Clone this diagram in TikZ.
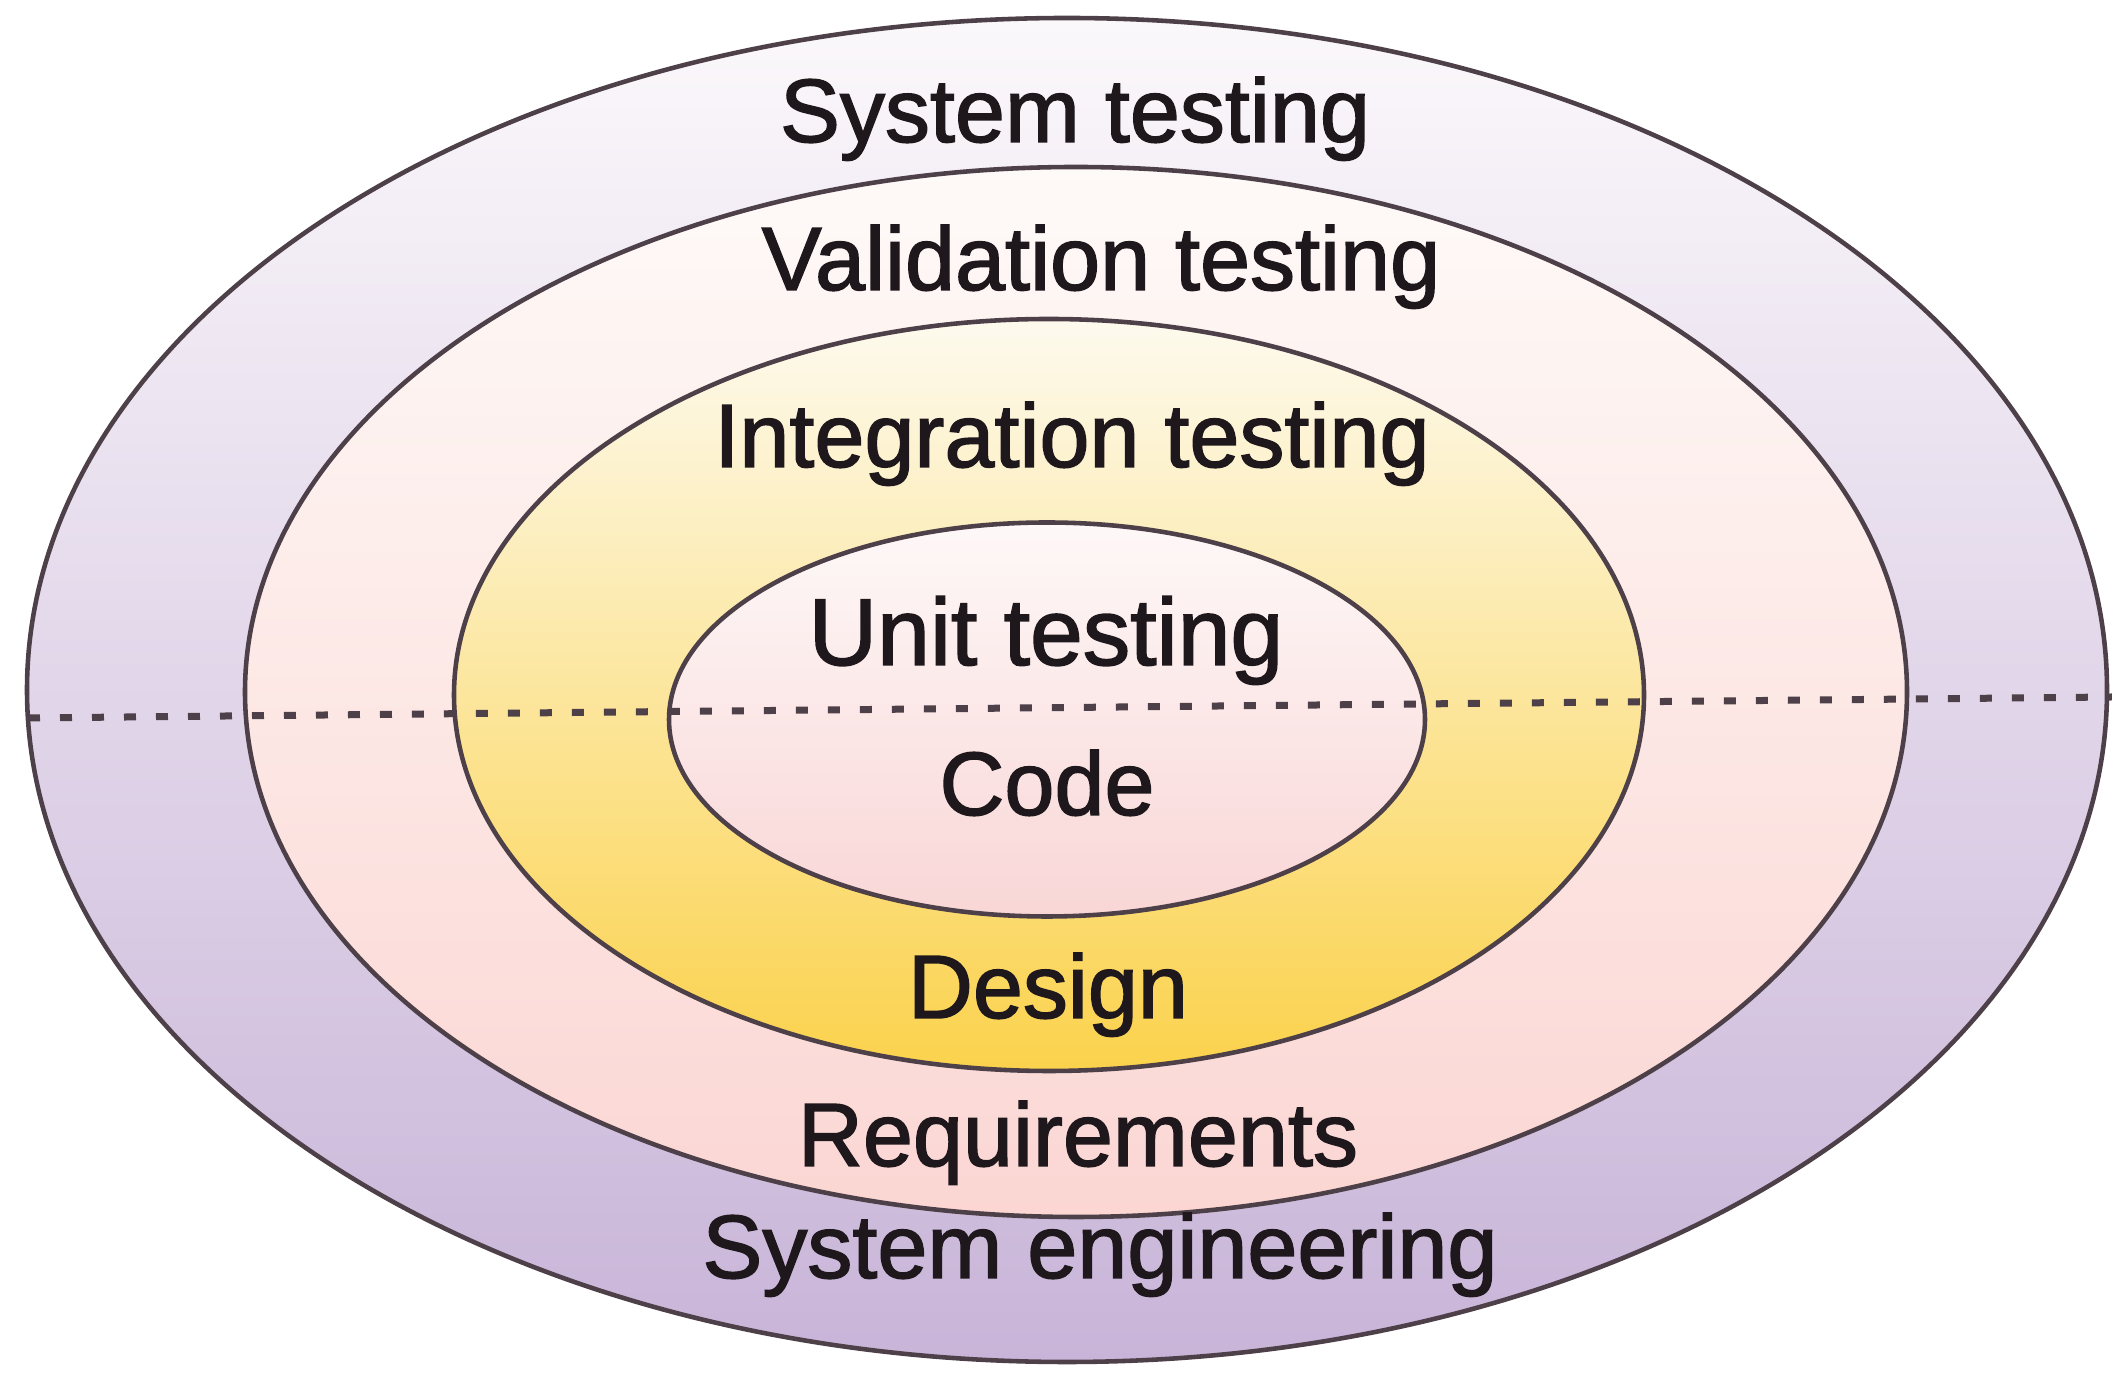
\documentclass[tikz,border=0pt]{standalone}
\usepackage{fontspec}
\setmainfont{Liberation Sans}
\newfontfamily\stagefont{Liberation Sans}[FakeBold=1.6]
\definecolor{rimline}{HTML}{4E4048}
\definecolor{labeltext}{HTML}{1E181C}
\definecolor{outtop}{HTML}{FBF8FB}
\definecolor{outbot}{HTML}{C8B4D8}
\definecolor{valtop}{HTML}{FEFAF8}
\definecolor{valbot}{HTML}{FBD6D3}
\definecolor{inttop}{HTML}{FDFAEE}
\definecolor{intbot}{HTML}{FBD24C}
\definecolor{unittop}{HTML}{FEF8F8}
\definecolor{unitbot}{HTML}{F9D6D6}
\tikzset{
  ring/.style={draw=rimline, line width=1.3pt},
  stage/.style={anchor=base, inner sep=0pt, text=labeltext,
    font=\stagefont\fontsize{25.6}{30}\selectfont},
  midline/.style={draw=rimline, line width=0.07cm, dash pattern=on 0.12cm off 0.2cm}
}
\begin{document}
\begin{tikzpicture}
    \useasboundingbox (0,0) rectangle (21.12,13.74);

    % 绘制四层椭圆
    \draw[ring, top color=outtop, bottom color=outbot] (10.67,6.84) ellipse (10.40 and 6.72);
    \draw[ring, top color=valtop, bottom color=valbot] (10.76,6.82) ellipse (8.31 and 5.25);
    \draw[ring, top color=inttop, bottom color=intbot] (10.49,6.79) ellipse (5.95 and 3.76);
    \draw[ring, top color=unittop, bottom color=unitbot] (10.47,6.545) ellipse (3.78 and 1.97);

    % 绘制中间的虚线
    \coordinate (L) at (0.28,6.56);
    \coordinate (R) at (21.12,6.77);
    \draw[midline] (L) -- (R);

    % 上半部分: 测试
    \node[stage] (systest) at (10.75,12.32) {System testing};
    \node[stage] (valtest) at (11.01,10.84) {Validation testing};
    \node[stage] (inttest) at (10.72,9.07) {Integration testing};
    \node[stage, font=\stagefont\fontsize{27}{32}\selectfont] (unittest) at (10.46,7.09) {Unit testing};

    % 下半部分: 开发
    \node[stage] (code) at (10.47,5.59) {Code};
    \node[stage] (design) at (10.48,3.56) {Design};
    \node[stage] (req) at (10.78,2.08) {Requirements};
    \node[stage] (syseng) at (11.00,0.96) {System engineering};

\end{tikzpicture}
\end{document}
